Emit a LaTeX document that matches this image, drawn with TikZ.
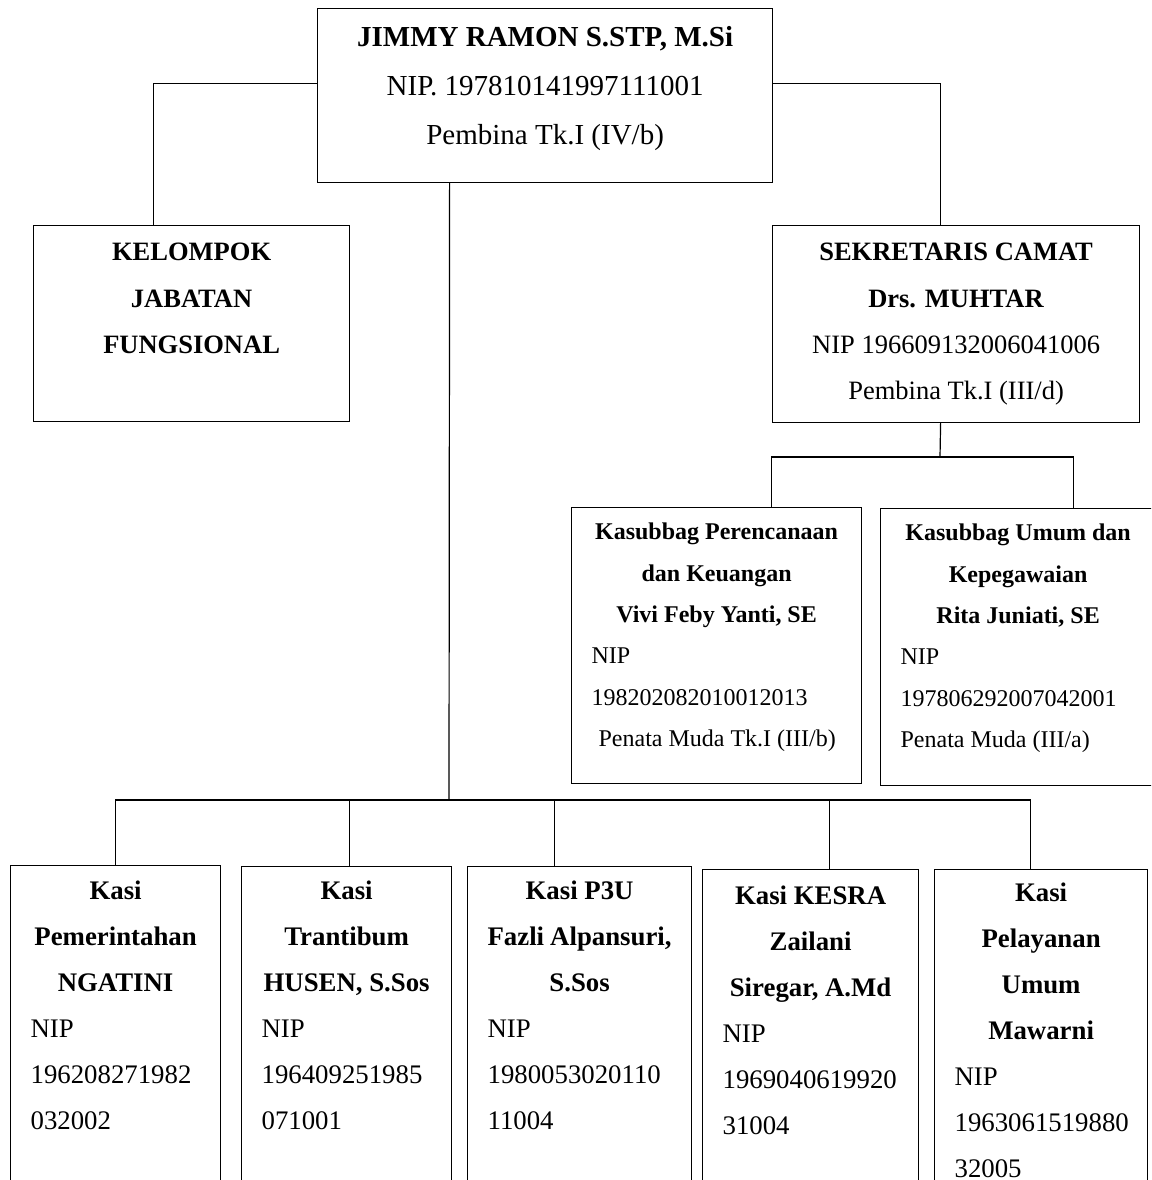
\documentclass[tikz,border=0pt]{standalone}
\usepackage{fontspec}
\setmainfont{Liberation Serif}
\usetikzlibrary{positioning}

\newcommand{\boxtext}[4]{\parbox[c][#2][t]{#1}{\rule{0pt}{#3}#4}}

\begin{document}
\begin{tikzpicture}[
  x=1pt, y=-1pt,
  box/.style={draw, line width=1.2pt, inner xsep=20pt, inner ysep=0pt, anchor=north west},
  headbox/.style={box, font=\fontsize{29}{49}\selectfont},
  unitbox/.style={box, font=\fontsize{26.5}{46.4}\selectfont},
  subbox/.style={box, font=\fontsize{24}{41.4}\selectfont},
  kasibox/.style={box, font=\fontsize{26.8}{46}\selectfont},
  link/.style={line width=1.2pt},
]
  \useasboundingbox (0,0) rectangle (1151,1180);
  \clip (0,0) rectangle (1151,1180);

  \node[headbox] (camat) at (317,8) {\boxtext{415pt}{174pt}{38pt}{\centering
    \textbf{JIMMY RAMON S.STP, M.Si}\\NIP. 197810141997111001\\Pembina Tk.I (IV/b)\par}};

  \node[unitbox] (fungsional) at (33,225) {\boxtext{276pt}{196pt}{35pt}{\centering\bfseries
    KELOMPOK\\JABATAN\\FUNGSIONAL\par}};
  \node[unitbox] (sekcam) at (772,225) {\boxtext{327pt}{197pt}{35pt}{\centering
    \textbf{SEKRETARIS CAMAT}\\\textbf{Drs. MUHTAR}\\NIP 196609132006041006\\Pembina Tk.I (III/d)\par}};

  \node[subbox] (perencanaan) at (571,507) {\boxtext{250pt}{276pt}{32pt}{\centering\bfseries
    Kasubbag Perencanaan\\dan Keuangan\\Vivi Feby Yanti, SE\par
    \raggedright\mdseries NIP\\198202082010012013\\\hspace*{7pt}Penata Muda Tk.I (III/b)\par}};
  \node[subbox] (kepegawaian) at (880,508) {\boxtext{235pt}{277pt}{32pt}{\centering\bfseries
    Kasubbag Umum dan\\Kepegawaian\\Rita Juniati, SE\par
    \raggedright\mdseries NIP\\197806292007042001\\Penata Muda (III/a)\par}};

  \node[kasibox] (pemerintahan) at (10,865) {\boxtext{170pt}{335pt}{34pt}{\centering\bfseries
    Kasi\\Pemerintahan\\NGATINI\par
    \raggedright\mdseries NIP\\196208271982\\032002\par}};
  \node[kasibox] (trantibum) at (241,866) {\boxtext{170pt}{334pt}{33pt}{\centering\bfseries
    Kasi\\Trantibum\\HUSEN,~S.Sos\par
    \raggedright\mdseries NIP\\196409251985\\071001\par}};
  \node[kasibox] (ppptu) at (467,866) {\boxtext{184pt}{334pt}{33pt}{\centering\bfseries
    Kasi P3U\\Fazli~Alpansuri,\\S.Sos\par
    \raggedright\mdseries NIP\\1980053020110\\11004\par}};
  \node[kasibox] (kesra) at (702,869) {\boxtext{176pt}{331pt}{35pt}{\centering\bfseries
    Kasi KESRA\\Zailani\\Siregar,~A.Md\par
    \raggedright\mdseries NIP\\1969040619920\\31004\par}};
  \node[kasibox] (pelayanan) at (934,869) {\boxtext{173pt}{331pt}{32pt}{\centering\bfseries
    Kasi\\Pelayanan\\Umum\\Mawarni\par
    \raggedright\mdseries NIP\\1963061519880\\32005\par}};

  \coordinate (bus) at (449,800);
  \coordinate (subbus) at (940,457);

  \draw[link] ([yshift=12pt]camat.west) -| ([xshift=-38pt]fungsional.north);
  \draw[link] ([yshift=12pt]camat.east) -| ([xshift=-15.5pt]sekcam.north);
  \draw[link] ([xshift=-95.5pt]camat.south) -- (bus);

  \draw[link] ([xshift=-15.5pt]sekcam.south) -- (subbus);
  \draw[link] ([xshift=55pt]perencanaan.north) |- (subbus) -| ([xshift=55.5pt]kepegawaian.north);

  \draw[link] (pemerintahan.north) |- (bus) -| ([xshift=-10.5pt]pelayanan.north);
  \draw[link] ([xshift=3pt]trantibum.north) -- ([xshift=3pt]trantibum.north |- bus);
  \draw[link] ([xshift=-25pt]ppptu.north) -- ([xshift=-25pt]ppptu.north |- bus);
  \draw[link] ([xshift=19pt]kesra.north) -- ([xshift=19pt]kesra.north |- bus);
\end{tikzpicture}
\end{document}
